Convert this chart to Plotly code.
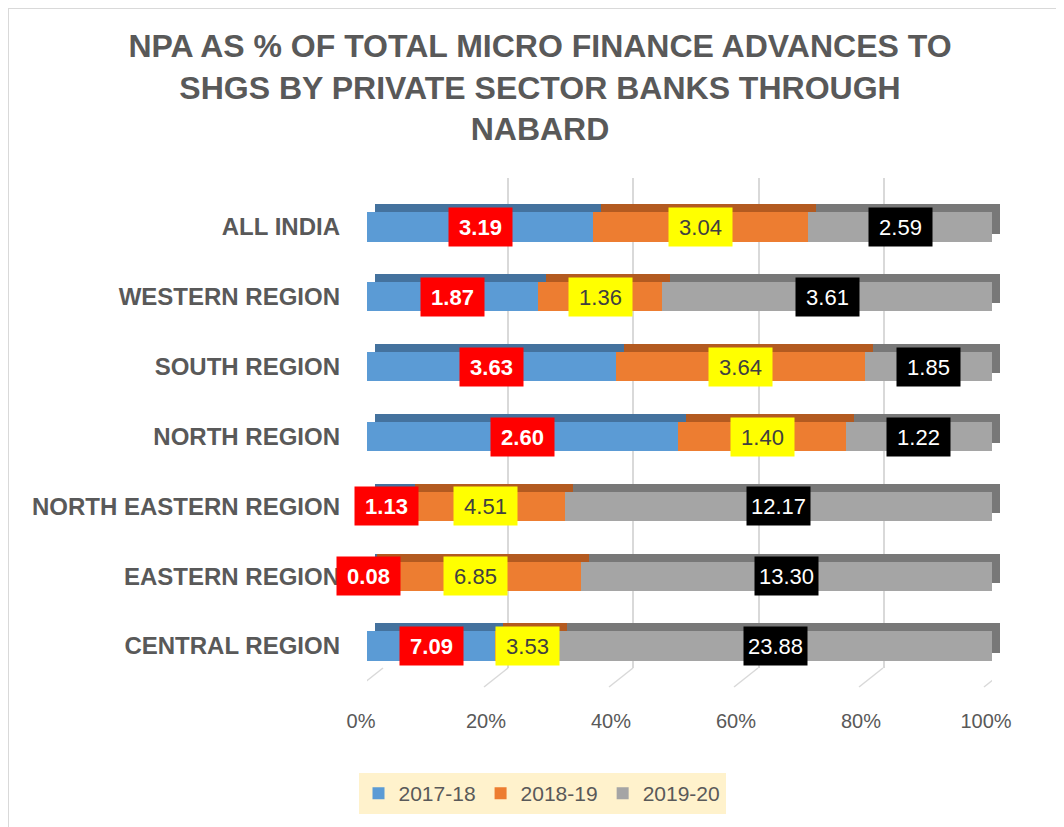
import plotly.graph_objects as go

regions = ['ALL INDIA', 'WESTERN REGION', 'SOUTH REGION', 'NORTH REGION',
           'NORTH EASTERN REGION', 'EASTERN REGION', 'CENTRAL REGION']
npa_2017_18 = [3.19, 1.87, 3.63, 2.60, 1.13, 0.08, 7.09]
npa_2018_19 = [3.04, 1.36, 3.64, 1.40, 4.51, 6.85, 3.53]
npa_2019_20 = [2.59, 3.61, 1.85, 1.22, 12.17, 13.30, 23.88]
years = ['2017-18', '2018-19', '2019-20']
pct_ticks = [0, 20, 40, 60, 80, 100]

series = [npa_2017_18, npa_2018_19, npa_2019_20]
front_cols = ['#5B9BD5', '#ED7D31', '#A5A5A5']
top_cols = ['#44729E', '#B35A20', '#787878']
box_cols = ['#FF0000', '#FFFF00', '#000000']
txt_cols = ['#FFFFFF', '#404040', '#FFFFFF']

# the page body adds an 8px offset, so the figure is 8px smaller and coords are shifted
OFF = 8
FIG_W, FIG_H = 1064 - OFF, 827 - OFF
# plot area in screen pixels: x 359..1009, y 178..687
L, R, T, B = 359, 1009, 178, 687
W, H = R - L, B - T
fx = lambda px: (px - L) / W
fy = lambda py: (B - py) / H

fig = go.Figure()

# empty trace so the back-wall grid subplot gets drawn
fig.add_trace(go.Scatter(x=[], y=[], xaxis='x', yaxis='y', showlegend=False, hoverinfo='skip'))

# back (3D top face) bars
for i, vals in enumerate(series):
    fig.add_trace(go.Bar(y=regions, x=vals, orientation='h', xaxis='x2', yaxis='y2',
                         marker=dict(color=top_cols[i], line=dict(width=0)),
                         showlegend=False, hoverinfo='skip'))
# front bars
for i, vals in enumerate(series):
    fig.add_trace(go.Bar(y=regions, x=vals, orientation='h', xaxis='x3', yaxis='y3',
                         name=years[i], marker=dict(color=front_cols[i], line=dict(width=0))))

# data labels with coloured boxes, centred on each segment
annotations = []
for r_i, reg in enumerate(regions):
    total = sum(s[r_i] for s in series)
    cum = 0
    for i, vals in enumerate(series):
        share = vals[r_i] / total * 100
        annotations.append(dict(
            x=cum + share / 2, y=reg, xref='x3', yref='y3', text=f'{vals[r_i]:.2f}',
            showarrow=False, bgcolor=box_cols[i], width=59, height=34, borderpad=2,
            font=dict(family='Liberation Sans, Arial', size=22, color=txt_cols[i],
                      weight='bold' if i == 0 else 'normal')))
        cum += share

# chart border + floor diagonals joining the back-wall gridlines to the front
shapes = [dict(type='rect', xref='paper', yref='paper', x0=fx(8), x1=fx(1075),
               y0=fy(840), y1=fy(8), line=dict(color='#D9D9D9', width=2), layer='below')]
for t in pct_ticks:
    shapes.append(dict(type='line', xref='x3', yref='paper', xsizemode='pixel', ysizemode='pixel',
                       xanchor=t, yanchor=0, x0=-8, x1=16, y0=0, y1=19,
                       line=dict(color='#D9D9D9', width=1.5)))

fig.update_layout(
    width=FIG_W, height=FIG_H,
    margin=dict(l=L - OFF, r=FIG_W - (R - OFF), t=T - OFF, b=FIG_H - (B - OFF)),
    paper_bgcolor='white', plot_bgcolor='rgba(0,0,0,0)',
    barmode='stack', barnorm='percent', bargap=0.58,
    title=dict(text='NPA AS % OF TOTAL MICRO FINANCE ADVANCES TO<br>SHGS BY PRIVATE SECTOR BANKS THROUGH<br>NABARD',
               x=(540 - OFF) / FIG_W, xanchor='center', y=1 - 49 / FIG_H, yanchor='top',
               font=dict(family='Liberation Sans, Arial', size=32,
                         color='#595959', weight='bold')),
    # gridline (back wall) axis
    xaxis=dict(domain=[fx(383), 1], range=[0, 100], tickvals=pct_ticks, showticklabels=False,
               showgrid=True, gridcolor='#D9D9D9', gridwidth=1.5, zeroline=False, anchor='y'),
    yaxis=dict(domain=[fy(668), 1], range=[0, 1], showgrid=False, zeroline=False,
               showticklabels=False, anchor='x'),
    # back bars
    xaxis2=dict(domain=[fx(375), fx(1000)], range=[0, 100], visible=False, anchor='y2'),
    yaxis2=dict(domain=[fy(673), fy(184)], autorange='reversed', visible=False, anchor='x2'),
    # front bars
    xaxis3=dict(domain=[fx(367), fx(992)], range=[0, 100], tickvals=pct_ticks,
                ticktext=[f'{t}%' for t in pct_ticks], showgrid=False, zeroline=False,
                showline=False, ticks='', ticklabelstandoff=26, ticklabelshift=-6,
                tickfont=dict(family='Liberation Sans, Arial', size=20, color='#595959'),
                anchor='y3'),
    yaxis3=dict(domain=[fy(681), fy(192)], autorange='reversed', showgrid=False, showline=False,
                ticks='', ticklabelstandoff=26,
                tickfont=dict(family='Liberation Sans, Arial', size=24, color='#595959',
                              weight='bold'),
                anchor='x3'),
    legend=dict(orientation='h', xref='container', yref='container',
                x=(542 - OFF) / FIG_W, xanchor='center',
                y=1 - (773 - OFF) / FIG_H, yanchor='top', bgcolor='#FFF2CC',
                font=dict(family='Liberation Sans, Arial', size=21, color='#595959'),
                itemwidth=30, traceorder='normal'),
    annotations=annotations,
    shapes=shapes,
)

fig.write_html('out.html')
